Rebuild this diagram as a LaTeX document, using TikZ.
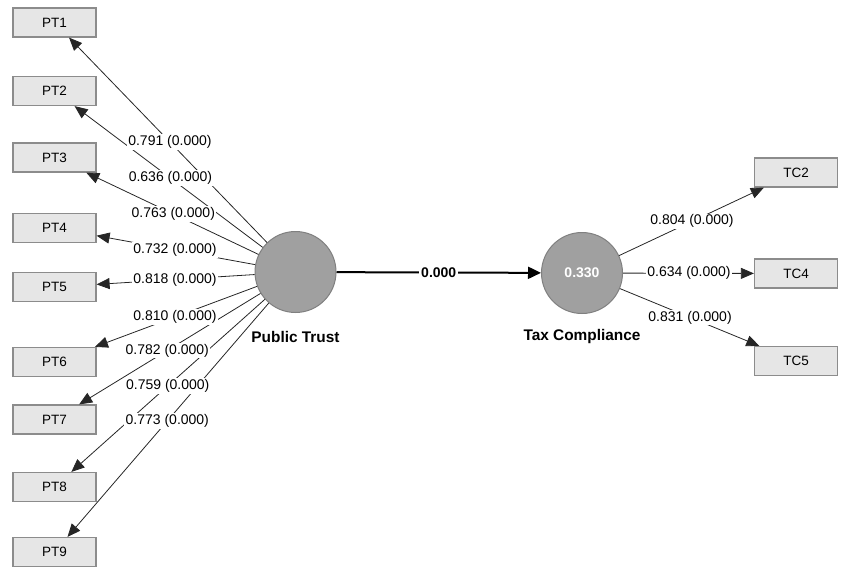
\documentclass[tikz,border=0pt]{standalone}
\usepackage{fontspec}
\setmainfont{Liberation Sans}
\usetikzlibrary{arrows.meta,calc}
\definecolor{boxfill}{HTML}{E6E6E6}
\definecolor{boxline}{HTML}{8C8C8C}
\definecolor{lvfill}{HTML}{A0A0A0}
\definecolor{lvline}{HTML}{808080}
\begin{document}
\begin{tikzpicture}[x=1pt,y=-1pt,
  ind/.style={draw=boxline, fill=boxfill, line width=1.2pt, minimum width=83pt, minimum height=29pt, inner sep=0pt, font=\fontsize{13.5}{15}\selectfont},
  lv/.style={circle, draw=lvline, fill=lvfill, line width=1pt, minimum size=81pt, inner sep=0pt},
  ld/.style={draw=black!85, line width=0.8pt, -{Triangle[length=13pt,width=11pt]}},
  wt/.style={fill=white, inner sep=1.2pt, font=\fontsize{14}{16}\selectfont},
  lvname/.style={font=\bfseries\fontsize{15.4}{17}\selectfont}]
\useasboundingbox (0,0) rectangle (841,574);

% latent variables
\node[lv] (PT) at (295.5,272) {};
\node[lv, text=white, font=\bfseries\fontsize{14}{16}\selectfont] (TC) at (582,273) {0.330};
\node[lvname] (PTn) at (295.5,337) {Public Trust};
\node[lvname] (TCn) at (582,337) {Tax Compliance};

% indicators
\foreach \n/\y in {1/22.5,2/91,3/157.5,4/228,5/287,6/362,7/419.5,8/487,9/552}
  \node[ind] (PT\n) at (54.5,\y) {PT\n};
\foreach \n/\y in {2/172.5,4/273.5,5/361}
  \node[ind] (TC\n) at (796,\y) {TC\n};

% loadings
\foreach \n in {1,...,9}
  \draw[ld] (PT) -- (PT\n);
\foreach \n in {2,4,5}
  \draw[ld] (TC) -- (TC\n);

% path
\draw[draw=black, line width=2pt, -{Triangle[length=13pt,width=12pt]}] (PT) -- node[fill=white, inner sep=2pt, font=\bfseries\fontsize{14}{16}\selectfont] (path) {0.000} (TC);

% loading labels
\foreach \n/\t/\v in {1/0.521/0.791, 2/0.519/0.636, 3/0.507/0.763, 4/0.5/0.732, 5/0.5/0.818, 6/0.5/0.810, 7/0.532/0.782, 8/0.530/0.759, 9/0.532/0.773}
  \node[wt] (lp\n) at ($(PT)!\t!(PT\n)$) {\v\ (0.000)};
\foreach \n/\t/\v in {2/0.514/0.804, 4/0.5/0.634, 5/0.505/0.831}
  \node[wt] (lt\n) at ($(TC)!\t!(TC\n)$) {\v\ (0.000)};
\end{tikzpicture}
\end{document}
